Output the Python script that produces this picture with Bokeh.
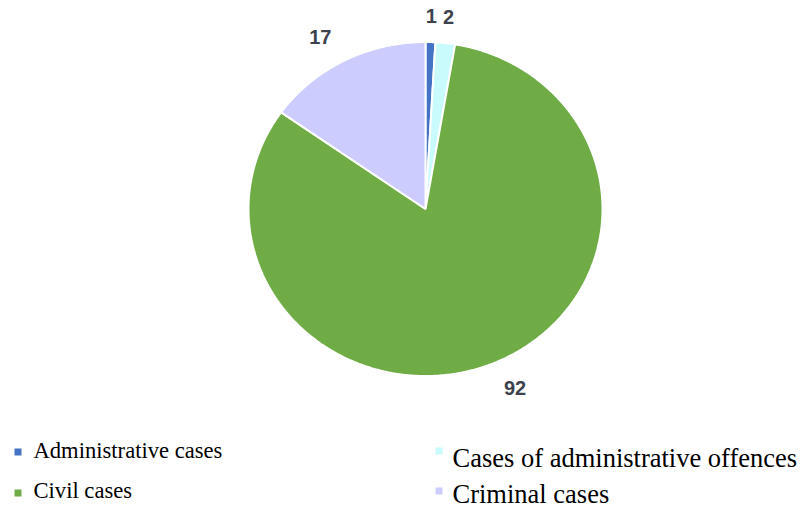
import numpy as np
from bokeh.plotting import figure
from bokeh.models import Range1d, ColumnDataSource
from bokeh.core.properties import value
from bokeh.embed import file_html
from bokeh.resources import INLINE

# ---- data ----
categories = ["Administrative cases", "Cases of administrative offences", "Civil cases", "Criminal cases"]
counts = [1, 2, 92, 17]
colors = ["#4472C4", "#C9FBFC", "#6FAC46", "#CCCCFF"]
legend_order = [0, 1, 2, 3]  # row-major: col0,row0 / col1,row0 / col0,row1 / col1,row1

# ---- layout (picture pixel coords) ----
W, H = 803, 508
CX, CY = 425, 208.5
RX, RY = 177, 167
GAPX, GAPY = 28, 19

p = figure(width=W, height=H, output_backend="svg", toolbar_location=None,
           x_range=Range1d(0, W), y_range=Range1d(H, 0),
           min_border=0)
p.axis.visible = False
p.grid.visible = False
p.outline_line_color = None
p.background_fill_color = "white"
p.border_fill_color = "white"

total = float(sum(counts))
fracs = np.array(counts) / total
ends = np.cumsum(fracs) * 2 * np.pi
starts = ends - fracs * 2 * np.pi

xs, ys = [], []
for a0, a1 in zip(starts, ends):
    t = np.linspace(a0, a1, max(4, int((a1 - a0) / 0.01)))
    px = [CX] + list(CX + RX * np.sin(t)) + [CX]
    py = [CY] + list(CY - RY * np.cos(t)) + [CY]
    xs.append(px)
    ys.append(py)

src = ColumnDataSource(dict(xs=xs, ys=ys, color=colors, cat=categories))
p.patches("xs", "ys", source=src, fill_color="color", line_color="white", line_width=2)

# data labels
for c, a0, a1 in zip(counts, starts, ends):
    m = (a0 + a1) / 2
    s, co = np.sin(m), np.cos(m)
    lx = CX + (RX + GAPX) * s
    ly = CY - (RY + GAPY) * co
    align = "left" if s > 0.3 else ("right" if s < -0.3 else "center")
    base = "bottom" if co > 0.3 else ("top" if co < -0.3 else "middle")
    p.text(x=[lx], y=[ly], text=[str(c)], text_font=value("Liberation Sans"),
           text_font_style="bold", text_font_size="20px", text_color="#3d424e",
           text_align=align, text_baseline=base)

# legend (manual)
col_marker_x = [17.5, 438.5]
col_text_x = [33, 452]
row_marker_y = [[451.5, 492.5], [450.5, 490.5]]
row_text_y = [[450, 490], [457, 493]]
col_font = ["22.6px", "26.5px"]
for k, idx in enumerate(legend_order):
    col, row = k % 2, k // 2
    p.scatter(x=[col_marker_x[col]], y=[row_marker_y[col][row]], marker="square",
              size=7, fill_color=colors[idx], line_color=None)
    p.text(x=[col_text_x[col]], y=[row_text_y[col][row]], text=[categories[idx]],
           text_font=value("Liberation Serif"), text_font_size=col_font[col],
           text_color="#000000", text_align="left", text_baseline="alphabetic")

open("out.html", "w").write(file_html(p, INLINE))
